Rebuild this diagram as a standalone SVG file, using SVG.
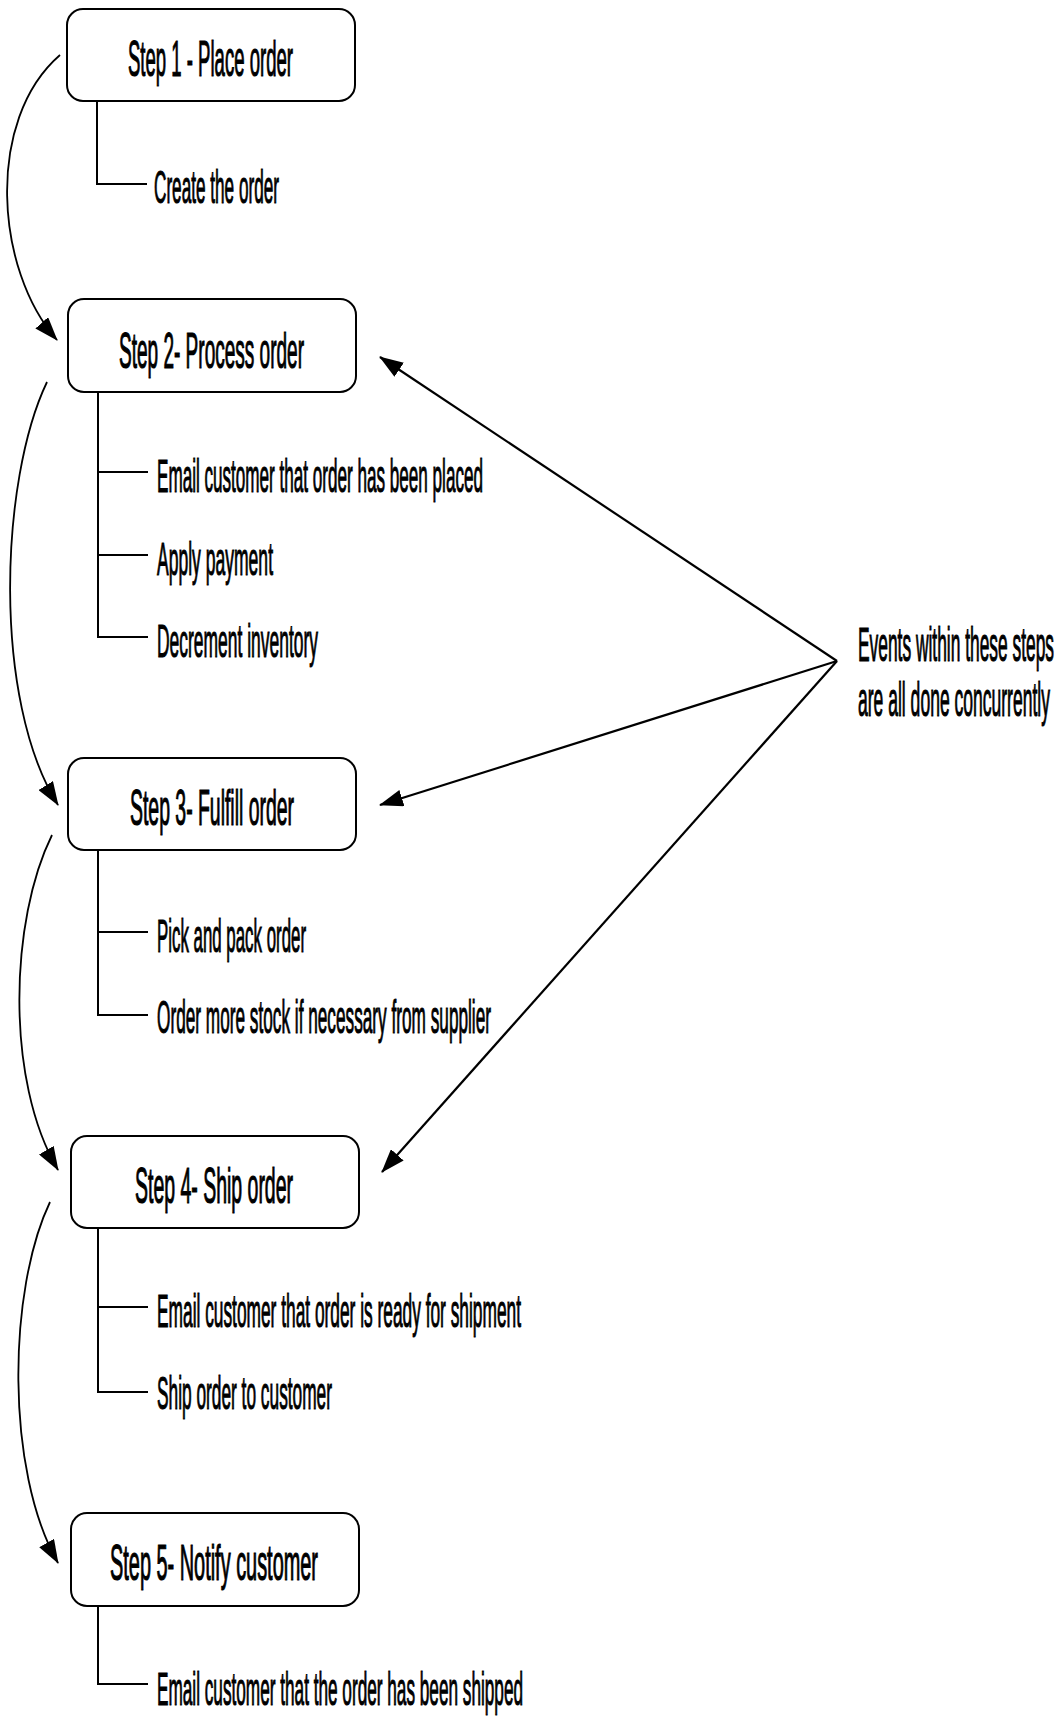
<svg xmlns="http://www.w3.org/2000/svg" width="1061" height="1716" viewBox="0 0 1061 1716">
<style>
  .box { fill: #fff; stroke: #000; stroke-width: 2; }
  .title { font-family: "Liberation Sans Narrow", "Liberation Sans", sans-serif; font-size: 50px; fill: #000; stroke: #000; stroke-width: 1.2; }
  .item { font-family: "Liberation Sans Narrow", "Liberation Sans", sans-serif; font-size: 46px; fill: #000; stroke: #000; stroke-width: 1.1; }
  .note { font-family: "Liberation Sans Narrow", "Liberation Sans", sans-serif; font-size: 48px; fill: #000; stroke: #000; stroke-width: 1.1; }
  .branch { fill: none; stroke: #000; stroke-width: 2; }
  .flow { fill: none; stroke: #000; stroke-width: 1.8; marker-end: url(#arrow); }
  .event { fill: none; stroke: #000; stroke-width: 2.2; marker-end: url(#arrow); }
</style>
<defs>
  <marker id="arrow" viewBox="0 0 24 17" refX="23" refY="8.5" markerWidth="24" markerHeight="17" markerUnits="userSpaceOnUse" orient="auto">
    <path d="M0,0 L24,8.5 L0,17 z" fill="#000"/>
  </marker>
</defs>
<rect width="1061" height="1716" fill="#fff"/>

<g id="connectors">
  <path class="flow" d="M60,55 C-15,120 -5,270 57,340"/>
  <path class="flow" d="M47,382 C0,480 -8,700 58,805"/>
  <path class="flow" d="M52,835 C10,920 5,1080 58,1170"/>
  <path class="flow" d="M50,1202 C8,1290 5,1470 58,1563"/>
  <path class="event" d="M837,661 L380,357"/>
  <path class="event" d="M837,661 L380,805"/>
  <path class="event" d="M837,661 L382,1172"/>
</g>

<g id="step1">
  <rect class="box" x="67" y="9" width="288" height="92" rx="16"/>
  <text class="title" x="128" y="76" textLength="165" lengthAdjust="spacingAndGlyphs">Step 1 - Place order</text>
  <path class="branch" d="M97,101 V184 H147"/>
  <text class="item" x="154" y="203" textLength="125" lengthAdjust="spacingAndGlyphs">Create the order</text>
</g>

<g id="step2">
  <rect class="box" x="68" y="299" width="288" height="93" rx="16"/>
  <text class="title" x="119" y="368" textLength="185" lengthAdjust="spacingAndGlyphs">Step 2- Process order</text>
  <path class="branch" d="M98,392 V637 H148 M98,472 H148 M98,555 H148"/>
  <text class="item" x="157" y="492" textLength="326" lengthAdjust="spacingAndGlyphs">Email customer that order has been placed</text>
  <text class="item" x="157" y="575" textLength="116" lengthAdjust="spacingAndGlyphs">Apply payment</text>
  <text class="item" x="157" y="657" textLength="161" lengthAdjust="spacingAndGlyphs">Decrement inventory</text>
</g>

<g id="step3">
  <rect class="box" x="68" y="758" width="288" height="92" rx="16"/>
  <text class="title" x="130" y="825" textLength="164" lengthAdjust="spacingAndGlyphs">Step 3- Fulfill order</text>
  <path class="branch" d="M98,850 V1015 H148 M98,932 H148"/>
  <text class="item" x="157" y="952" textLength="149" lengthAdjust="spacingAndGlyphs">Pick and pack order</text>
  <text class="item" x="157" y="1033" textLength="334" lengthAdjust="spacingAndGlyphs">Order more stock if necessary from supplier</text>
</g>

<g id="step4">
  <rect class="box" x="71" y="1136" width="288" height="92" rx="16"/>
  <text class="title" x="135" y="1203" textLength="158" lengthAdjust="spacingAndGlyphs">Step 4- Ship order</text>
  <path class="branch" d="M98,1228 V1392 H148 M98,1307 H148"/>
  <text class="item" x="157" y="1327" textLength="364" lengthAdjust="spacingAndGlyphs">Email customer that order is ready for shipment</text>
  <text class="item" x="157" y="1409" textLength="175" lengthAdjust="spacingAndGlyphs">Ship order to customer</text>
</g>

<g id="step5">
  <rect class="box" x="71" y="1513" width="288" height="93" rx="16"/>
  <text class="title" x="110" y="1580" textLength="208" lengthAdjust="spacingAndGlyphs">Step 5- Notify customer</text>
  <path class="branch" d="M98,1606 V1684 H148"/>
  <text class="item" x="157" y="1705" textLength="366" lengthAdjust="spacingAndGlyphs">Email customer that the order has been shipped</text>
</g>

<g id="note">
  <text class="note" x="858" y="661" textLength="196" lengthAdjust="spacingAndGlyphs">Events within these steps</text>
  <text class="note" x="858" y="716" textLength="192" lengthAdjust="spacingAndGlyphs">are all done concurrently</text>
</g>
</svg>
